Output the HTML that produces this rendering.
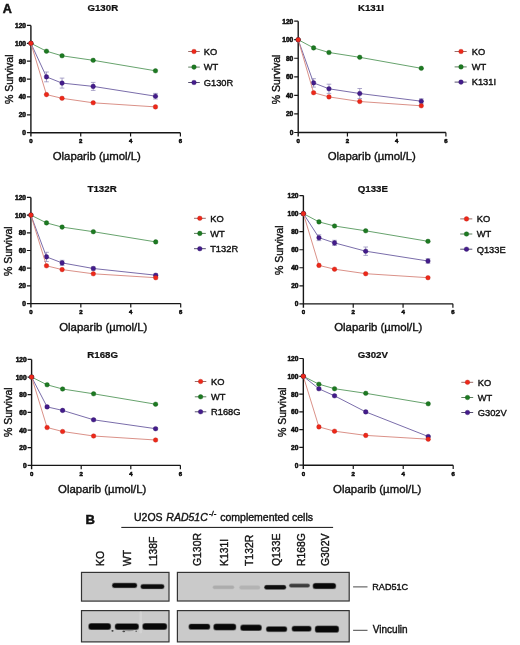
<!DOCTYPE html>
<html><head><meta charset="utf-8"><style>
html,body{margin:0;padding:0;background:#fff;width:520px;height:645px;overflow:hidden}
svg{display:block;will-change:transform}
text{font-family:"Liberation Sans", sans-serif;fill:#111;stroke:#111;stroke-width:0.38px}
text[font-weight=bold]{stroke-width:0.22px}
text.tk{stroke-width:0.55px}
</style></head><body>
<svg width="520" height="645" viewBox="0 0 520 645">
<text x="2.7" y="12.5" font-weight="bold" font-size="12.6" style="stroke-width:0.5px">A</text>
<text x="102.8" y="10.9" text-anchor="middle" font-weight="bold" font-size="9.7">G130R</text>
<path d="M30.9 25.4V136.6M30.9 132.7H180.4" stroke="#161616" stroke-width="1.4" fill="none"/>
<path d="M26.9 132.7H30.9M26.9 114.82H30.9M26.9 96.93H30.9M26.9 79.05H30.9M26.9 61.17H30.9M26.9 43.28H30.9M26.9 25.4H30.9M80.73 132.7V136.6M130.57 132.7V136.6M180.4 132.7V136.6" stroke="#161616" stroke-width="1.2" fill="none"/>
<text x="26" y="135.2" text-anchor="end" font-weight="bold" font-size="6.6" class="tk">0</text>
<text x="26" y="117.32" text-anchor="end" font-weight="bold" font-size="6.6" class="tk">20</text>
<text x="26" y="99.43" text-anchor="end" font-weight="bold" font-size="6.6" class="tk">40</text>
<text x="26" y="81.55" text-anchor="end" font-weight="bold" font-size="6.6" class="tk">60</text>
<text x="26" y="63.67" text-anchor="end" font-weight="bold" font-size="6.6" class="tk">80</text>
<text x="26" y="45.78" text-anchor="end" font-weight="bold" font-size="6.6" class="tk">100</text>
<text x="26" y="27.9" text-anchor="end" font-weight="bold" font-size="6.6" class="tk">120</text>
<text x="30.9" y="143.3" text-anchor="middle" font-weight="bold" font-size="6" class="tk">0</text>
<text x="80.73" y="143.3" text-anchor="middle" font-weight="bold" font-size="6" class="tk">2</text>
<text x="130.57" y="143.3" text-anchor="middle" font-weight="bold" font-size="6" class="tk">4</text>
<text x="180.4" y="143.3" text-anchor="middle" font-weight="bold" font-size="6" class="tk">6</text>
<text transform="translate(12.7 79.3) rotate(-90)" text-anchor="middle" font-size="10.5">% Survival</text>
<text x="52.7" y="159.9" font-size="11.4">Olaparib (µmol/L)</text>
<polyline points="30.9,43.28 46.47,51.2 62.05,55.8 93.19,60.3 155.48,70.8" fill="none" stroke="#56985c" stroke-width="0.9"/>
<circle cx="30.9" cy="43.28" r="2.3" fill="#1d7a22" stroke="#0c560e" stroke-width="0.35"/>
<circle cx="46.47" cy="51.2" r="2.3" fill="#1d7a22" stroke="#0c560e" stroke-width="0.35"/>
<circle cx="62.05" cy="55.8" r="2.3" fill="#1d7a22" stroke="#0c560e" stroke-width="0.35"/>
<circle cx="93.19" cy="60.3" r="2.3" fill="#1d7a22" stroke="#0c560e" stroke-width="0.35"/>
<circle cx="155.48" cy="70.8" r="2.3" fill="#1d7a22" stroke="#0c560e" stroke-width="0.35"/>
<polyline points="30.9,43.28 46.47,76.9 62.05,83.1 93.19,86.4 155.48,96.2" fill="none" stroke="#6b5ca0" stroke-width="0.9"/>
<path d="M46.47 72V81.8M44.17 72H48.77M44.17 81.8H48.77M62.05 78.1V88.1M59.75 78.1H64.35M59.75 88.1H64.35M93.19 82.4V90.4M90.89 82.4H95.49M90.89 90.4H95.49M155.48 93.4V99M153.18 93.4H157.78M153.18 99H157.78" stroke="#9088b8" stroke-width="0.75" fill="none"/>
<circle cx="30.9" cy="43.28" r="2.3" fill="#441c8c" stroke="#2a0b5c" stroke-width="0.35"/>
<circle cx="46.47" cy="76.9" r="2.3" fill="#441c8c" stroke="#2a0b5c" stroke-width="0.35"/>
<circle cx="62.05" cy="83.1" r="2.3" fill="#441c8c" stroke="#2a0b5c" stroke-width="0.35"/>
<circle cx="93.19" cy="86.4" r="2.3" fill="#441c8c" stroke="#2a0b5c" stroke-width="0.35"/>
<circle cx="155.48" cy="96.2" r="2.3" fill="#441c8c" stroke="#2a0b5c" stroke-width="0.35"/>
<polyline points="30.9,43.28 46.47,94.6 62.05,98.3 93.19,102.8 155.48,106.9" fill="none" stroke="#d6857a" stroke-width="0.9"/>
<circle cx="30.9" cy="43.28" r="2.3" fill="#ee2819" stroke="#b81a10" stroke-width="0.35"/>
<circle cx="46.47" cy="94.6" r="2.3" fill="#ee2819" stroke="#b81a10" stroke-width="0.35"/>
<circle cx="62.05" cy="98.3" r="2.3" fill="#ee2819" stroke="#b81a10" stroke-width="0.35"/>
<circle cx="93.19" cy="102.8" r="2.3" fill="#ee2819" stroke="#b81a10" stroke-width="0.35"/>
<circle cx="155.48" cy="106.9" r="2.3" fill="#ee2819" stroke="#b81a10" stroke-width="0.35"/>
<path d="M188.2 51.5H199.8" stroke="#9a6e6a" stroke-width="1"/>
<circle cx="194" cy="51.5" r="2.3" fill="#ee2819" stroke="#b81a10" stroke-width="0.35"/>
<text x="203.8" y="54.8" font-size="9.3">KO</text>
<path d="M188.2 67.1H199.8" stroke="#5e7e60" stroke-width="1"/>
<circle cx="194" cy="67.1" r="2.3" fill="#1d7a22" stroke="#0c560e" stroke-width="0.35"/>
<text x="203.8" y="70.4" font-size="9.3">WT</text>
<path d="M188.2 82.5H199.8" stroke="#56506e" stroke-width="1"/>
<circle cx="194" cy="82.5" r="2.3" fill="#441c8c" stroke="#2a0b5c" stroke-width="0.35"/>
<text x="203.8" y="85.8" font-size="9.3">G130R</text>
<text x="370.9" y="10.9" text-anchor="middle" font-weight="bold" font-size="9.7">K131I</text>
<path d="M298.2 21.15V136.4M298.2 132.5H445.9" stroke="#161616" stroke-width="1.4" fill="none"/>
<path d="M294.2 132.5H298.2M294.2 113.94H298.2M294.2 95.38H298.2M294.2 76.83H298.2M294.2 58.27H298.2M294.2 39.71H298.2M294.2 21.15H298.2M347.43 132.5V136.4M396.67 132.5V136.4M445.9 132.5V136.4" stroke="#161616" stroke-width="1.2" fill="none"/>
<text x="293.3" y="135" text-anchor="end" font-weight="bold" font-size="6.6" class="tk">0</text>
<text x="293.3" y="116.44" text-anchor="end" font-weight="bold" font-size="6.6" class="tk">20</text>
<text x="293.3" y="97.88" text-anchor="end" font-weight="bold" font-size="6.6" class="tk">40</text>
<text x="293.3" y="79.33" text-anchor="end" font-weight="bold" font-size="6.6" class="tk">60</text>
<text x="293.3" y="60.77" text-anchor="end" font-weight="bold" font-size="6.6" class="tk">80</text>
<text x="293.3" y="42.21" text-anchor="end" font-weight="bold" font-size="6.6" class="tk">100</text>
<text x="293.3" y="23.65" text-anchor="end" font-weight="bold" font-size="6.6" class="tk">120</text>
<text x="298.2" y="143.1" text-anchor="middle" font-weight="bold" font-size="6" class="tk">0</text>
<text x="347.43" y="143.1" text-anchor="middle" font-weight="bold" font-size="6" class="tk">2</text>
<text x="396.67" y="143.1" text-anchor="middle" font-weight="bold" font-size="6" class="tk">4</text>
<text x="445.9" y="143.1" text-anchor="middle" font-weight="bold" font-size="6" class="tk">6</text>
<text transform="translate(279.6 79.4) rotate(-90)" text-anchor="middle" font-size="10.5">% Survival</text>
<text x="327.7" y="159.9" font-size="11.4">Olaparib (µmol/L)</text>
<polyline points="298.2,39.71 313.59,47.9 328.97,52.5 359.74,57.3 421.28,68.3" fill="none" stroke="#56985c" stroke-width="0.9"/>
<circle cx="298.2" cy="39.71" r="2.3" fill="#1d7a22" stroke="#0c560e" stroke-width="0.35"/>
<circle cx="313.59" cy="47.9" r="2.3" fill="#1d7a22" stroke="#0c560e" stroke-width="0.35"/>
<circle cx="328.97" cy="52.5" r="2.3" fill="#1d7a22" stroke="#0c560e" stroke-width="0.35"/>
<circle cx="359.74" cy="57.3" r="2.3" fill="#1d7a22" stroke="#0c560e" stroke-width="0.35"/>
<circle cx="421.28" cy="68.3" r="2.3" fill="#1d7a22" stroke="#0c560e" stroke-width="0.35"/>
<polyline points="298.2,39.71 313.59,82.9 328.97,88.8 359.74,93.5 421.28,101.2" fill="none" stroke="#6b5ca0" stroke-width="0.9"/>
<path d="M313.59 78.7V87.1M311.29 78.7H315.89M311.29 87.1H315.89M328.97 84.2V93.4M326.67 84.2H331.27M326.67 93.4H331.27M359.74 88.5V98.5M357.44 88.5H362.04M357.44 98.5H362.04M421.28 98.8V103.6M418.98 98.8H423.58M418.98 103.6H423.58" stroke="#9088b8" stroke-width="0.75" fill="none"/>
<circle cx="298.2" cy="39.71" r="2.3" fill="#441c8c" stroke="#2a0b5c" stroke-width="0.35"/>
<circle cx="313.59" cy="82.9" r="2.3" fill="#441c8c" stroke="#2a0b5c" stroke-width="0.35"/>
<circle cx="328.97" cy="88.8" r="2.3" fill="#441c8c" stroke="#2a0b5c" stroke-width="0.35"/>
<circle cx="359.74" cy="93.5" r="2.3" fill="#441c8c" stroke="#2a0b5c" stroke-width="0.35"/>
<circle cx="421.28" cy="101.2" r="2.3" fill="#441c8c" stroke="#2a0b5c" stroke-width="0.35"/>
<polyline points="298.2,39.71 313.59,92.7 328.97,96.9 359.74,101.5 421.28,105.8" fill="none" stroke="#d6857a" stroke-width="0.9"/>
<circle cx="298.2" cy="39.71" r="2.3" fill="#ee2819" stroke="#b81a10" stroke-width="0.35"/>
<circle cx="313.59" cy="92.7" r="2.3" fill="#ee2819" stroke="#b81a10" stroke-width="0.35"/>
<circle cx="328.97" cy="96.9" r="2.3" fill="#ee2819" stroke="#b81a10" stroke-width="0.35"/>
<circle cx="359.74" cy="101.5" r="2.3" fill="#ee2819" stroke="#b81a10" stroke-width="0.35"/>
<circle cx="421.28" cy="105.8" r="2.3" fill="#ee2819" stroke="#b81a10" stroke-width="0.35"/>
<path d="M454.6 51.5H466.7" stroke="#9a6e6a" stroke-width="1"/>
<circle cx="461" cy="51.5" r="2.3" fill="#ee2819" stroke="#b81a10" stroke-width="0.35"/>
<text x="471.7" y="54.8" font-size="9.3">KO</text>
<path d="M454.6 66.9H466.7" stroke="#5e7e60" stroke-width="1"/>
<circle cx="461" cy="66.9" r="2.3" fill="#1d7a22" stroke="#0c560e" stroke-width="0.35"/>
<text x="471.7" y="70.2" font-size="9.3">WT</text>
<path d="M454.6 82.1H466.7" stroke="#56506e" stroke-width="1"/>
<circle cx="461" cy="82.1" r="2.3" fill="#441c8c" stroke="#2a0b5c" stroke-width="0.35"/>
<text x="471.7" y="85.4" font-size="9.3">K131I</text>
<text x="102.1" y="192" text-anchor="middle" font-weight="bold" font-size="9.7">T132R</text>
<path d="M30.9 197.4V307.5M30.9 303.6H180.7" stroke="#161616" stroke-width="1.4" fill="none"/>
<path d="M26.9 303.6H30.9M26.9 285.9H30.9M26.9 268.2H30.9M26.9 250.5H30.9M26.9 232.8H30.9M26.9 215.1H30.9M26.9 197.4H30.9M80.83 303.6V307.5M130.77 303.6V307.5M180.7 303.6V307.5" stroke="#161616" stroke-width="1.2" fill="none"/>
<text x="26" y="306.1" text-anchor="end" font-weight="bold" font-size="6.6" class="tk">0</text>
<text x="26" y="288.4" text-anchor="end" font-weight="bold" font-size="6.6" class="tk">20</text>
<text x="26" y="270.7" text-anchor="end" font-weight="bold" font-size="6.6" class="tk">40</text>
<text x="26" y="253" text-anchor="end" font-weight="bold" font-size="6.6" class="tk">60</text>
<text x="26" y="235.3" text-anchor="end" font-weight="bold" font-size="6.6" class="tk">80</text>
<text x="26" y="217.6" text-anchor="end" font-weight="bold" font-size="6.6" class="tk">100</text>
<text x="26" y="199.9" text-anchor="end" font-weight="bold" font-size="6.6" class="tk">120</text>
<text x="30.9" y="314.2" text-anchor="middle" font-weight="bold" font-size="6" class="tk">0</text>
<text x="80.83" y="314.2" text-anchor="middle" font-weight="bold" font-size="6" class="tk">2</text>
<text x="130.77" y="314.2" text-anchor="middle" font-weight="bold" font-size="6" class="tk">4</text>
<text x="180.7" y="314.2" text-anchor="middle" font-weight="bold" font-size="6" class="tk">6</text>
<text transform="translate(12.1 251.2) rotate(-90)" text-anchor="middle" font-size="10.5">% Survival</text>
<text x="59.2" y="330.8" font-size="11.4">Olaparib (µmol/L)</text>
<polyline points="30.9,215.1 46.5,222.9 62.11,227.1 93.32,231.7 155.73,241.9" fill="none" stroke="#56985c" stroke-width="0.9"/>
<circle cx="30.9" cy="215.1" r="2.3" fill="#1d7a22" stroke="#0c560e" stroke-width="0.35"/>
<circle cx="46.5" cy="222.9" r="2.3" fill="#1d7a22" stroke="#0c560e" stroke-width="0.35"/>
<circle cx="62.11" cy="227.1" r="2.3" fill="#1d7a22" stroke="#0c560e" stroke-width="0.35"/>
<circle cx="93.32" cy="231.7" r="2.3" fill="#1d7a22" stroke="#0c560e" stroke-width="0.35"/>
<circle cx="155.73" cy="241.9" r="2.3" fill="#1d7a22" stroke="#0c560e" stroke-width="0.35"/>
<polyline points="30.9,215.1 46.5,256.9 62.11,262.9 93.32,268.5 155.73,275.2" fill="none" stroke="#6b5ca0" stroke-width="0.9"/>
<path d="M46.5 252.3V261.5M44.2 252.3H48.8M44.2 261.5H48.8M62.11 260.3V265.5M59.81 260.3H64.41M59.81 265.5H64.41M93.32 266.9V270.1M91.02 266.9H95.62M91.02 270.1H95.62M155.73 274V276.4M153.43 274H158.03M153.43 276.4H158.03" stroke="#9088b8" stroke-width="0.75" fill="none"/>
<circle cx="30.9" cy="215.1" r="2.3" fill="#441c8c" stroke="#2a0b5c" stroke-width="0.35"/>
<circle cx="46.5" cy="256.9" r="2.3" fill="#441c8c" stroke="#2a0b5c" stroke-width="0.35"/>
<circle cx="62.11" cy="262.9" r="2.3" fill="#441c8c" stroke="#2a0b5c" stroke-width="0.35"/>
<circle cx="93.32" cy="268.5" r="2.3" fill="#441c8c" stroke="#2a0b5c" stroke-width="0.35"/>
<circle cx="155.73" cy="275.2" r="2.3" fill="#441c8c" stroke="#2a0b5c" stroke-width="0.35"/>
<polyline points="30.9,215.1 46.5,265.8 62.11,269.6 93.32,273.8 155.73,277.7" fill="none" stroke="#d6857a" stroke-width="0.9"/>
<circle cx="30.9" cy="215.1" r="2.3" fill="#ee2819" stroke="#b81a10" stroke-width="0.35"/>
<circle cx="46.5" cy="265.8" r="2.3" fill="#ee2819" stroke="#b81a10" stroke-width="0.35"/>
<circle cx="62.11" cy="269.6" r="2.3" fill="#ee2819" stroke="#b81a10" stroke-width="0.35"/>
<circle cx="93.32" cy="273.8" r="2.3" fill="#ee2819" stroke="#b81a10" stroke-width="0.35"/>
<circle cx="155.73" cy="277.7" r="2.3" fill="#ee2819" stroke="#b81a10" stroke-width="0.35"/>
<path d="M194 218.3H205.8" stroke="#9a6e6a" stroke-width="1"/>
<circle cx="199.8" cy="218.3" r="2.3" fill="#ee2819" stroke="#b81a10" stroke-width="0.35"/>
<text x="210.2" y="221.6" font-size="9.3">KO</text>
<path d="M194 233.4H205.8" stroke="#5e7e60" stroke-width="1"/>
<circle cx="199.8" cy="233.4" r="2.3" fill="#1d7a22" stroke="#0c560e" stroke-width="0.35"/>
<text x="210.2" y="236.7" font-size="9.3">WT</text>
<path d="M194 248.7H205.8" stroke="#56506e" stroke-width="1"/>
<circle cx="199.8" cy="248.7" r="2.3" fill="#441c8c" stroke="#2a0b5c" stroke-width="0.35"/>
<text x="210.2" y="252" font-size="9.3">T132R</text>
<text x="372.9" y="192" text-anchor="middle" font-weight="bold" font-size="9.7">Q133E</text>
<path d="M303.4 195.6V307.75M303.4 303.85H452.9" stroke="#161616" stroke-width="1.4" fill="none"/>
<path d="M299.4 303.85H303.4M299.4 285.81H303.4M299.4 267.77H303.4M299.4 249.73H303.4M299.4 231.68H303.4M299.4 213.64H303.4M299.4 195.6H303.4M353.23 303.85V307.75M403.07 303.85V307.75M452.9 303.85V307.75" stroke="#161616" stroke-width="1.2" fill="none"/>
<text x="298.5" y="306.35" text-anchor="end" font-weight="bold" font-size="6.6" class="tk">0</text>
<text x="298.5" y="288.31" text-anchor="end" font-weight="bold" font-size="6.6" class="tk">20</text>
<text x="298.5" y="270.27" text-anchor="end" font-weight="bold" font-size="6.6" class="tk">40</text>
<text x="298.5" y="252.23" text-anchor="end" font-weight="bold" font-size="6.6" class="tk">60</text>
<text x="298.5" y="234.18" text-anchor="end" font-weight="bold" font-size="6.6" class="tk">80</text>
<text x="298.5" y="216.14" text-anchor="end" font-weight="bold" font-size="6.6" class="tk">100</text>
<text x="298.5" y="198.1" text-anchor="end" font-weight="bold" font-size="6.6" class="tk">120</text>
<text x="303.4" y="314.45" text-anchor="middle" font-weight="bold" font-size="6" class="tk">0</text>
<text x="353.23" y="314.45" text-anchor="middle" font-weight="bold" font-size="6" class="tk">2</text>
<text x="403.07" y="314.45" text-anchor="middle" font-weight="bold" font-size="6" class="tk">4</text>
<text x="452.9" y="314.45" text-anchor="middle" font-weight="bold" font-size="6" class="tk">6</text>
<text transform="translate(282.7 250.3) rotate(-90)" text-anchor="middle" font-size="10.5">% Survival</text>
<text x="334.2" y="331.2" font-size="11.4">Olaparib (µmol/L)</text>
<polyline points="303.4,213.64 318.97,221.9 334.55,226 365.69,230.8 427.98,241.3" fill="none" stroke="#56985c" stroke-width="0.9"/>
<circle cx="303.4" cy="213.64" r="2.3" fill="#1d7a22" stroke="#0c560e" stroke-width="0.35"/>
<circle cx="318.97" cy="221.9" r="2.3" fill="#1d7a22" stroke="#0c560e" stroke-width="0.35"/>
<circle cx="334.55" cy="226" r="2.3" fill="#1d7a22" stroke="#0c560e" stroke-width="0.35"/>
<circle cx="365.69" cy="230.8" r="2.3" fill="#1d7a22" stroke="#0c560e" stroke-width="0.35"/>
<circle cx="427.98" cy="241.3" r="2.3" fill="#1d7a22" stroke="#0c560e" stroke-width="0.35"/>
<polyline points="303.4,213.64 318.97,237.7 334.55,242.9 365.69,251.2 427.98,261" fill="none" stroke="#6b5ca0" stroke-width="0.9"/>
<path d="M318.97 234.8V240.6M316.67 234.8H321.27M316.67 240.6H321.27M334.55 240.3V245.5M332.25 240.3H336.85M332.25 245.5H336.85M365.69 247V255.4M363.39 247H367.99M363.39 255.4H367.99M427.98 258.7V263.3M425.68 258.7H430.28M425.68 263.3H430.28" stroke="#9088b8" stroke-width="0.75" fill="none"/>
<circle cx="303.4" cy="213.64" r="2.3" fill="#441c8c" stroke="#2a0b5c" stroke-width="0.35"/>
<circle cx="318.97" cy="237.7" r="2.3" fill="#441c8c" stroke="#2a0b5c" stroke-width="0.35"/>
<circle cx="334.55" cy="242.9" r="2.3" fill="#441c8c" stroke="#2a0b5c" stroke-width="0.35"/>
<circle cx="365.69" cy="251.2" r="2.3" fill="#441c8c" stroke="#2a0b5c" stroke-width="0.35"/>
<circle cx="427.98" cy="261" r="2.3" fill="#441c8c" stroke="#2a0b5c" stroke-width="0.35"/>
<polyline points="303.4,213.64 318.97,265.4 334.55,269.2 365.69,273.7 427.98,277.7" fill="none" stroke="#d6857a" stroke-width="0.9"/>
<circle cx="303.4" cy="213.64" r="2.3" fill="#ee2819" stroke="#b81a10" stroke-width="0.35"/>
<circle cx="318.97" cy="265.4" r="2.3" fill="#ee2819" stroke="#b81a10" stroke-width="0.35"/>
<circle cx="334.55" cy="269.2" r="2.3" fill="#ee2819" stroke="#b81a10" stroke-width="0.35"/>
<circle cx="365.69" cy="273.7" r="2.3" fill="#ee2819" stroke="#b81a10" stroke-width="0.35"/>
<circle cx="427.98" cy="277.7" r="2.3" fill="#ee2819" stroke="#b81a10" stroke-width="0.35"/>
<path d="M460.2 218.9H472.3" stroke="#9a6e6a" stroke-width="1"/>
<circle cx="466.5" cy="218.9" r="2.3" fill="#ee2819" stroke="#b81a10" stroke-width="0.35"/>
<text x="476.7" y="222.2" font-size="9.3">KO</text>
<path d="M460.2 234H472.3" stroke="#5e7e60" stroke-width="1"/>
<circle cx="466.5" cy="234" r="2.3" fill="#1d7a22" stroke="#0c560e" stroke-width="0.35"/>
<text x="476.7" y="237.3" font-size="9.3">WT</text>
<path d="M460.2 249.2H472.3" stroke="#56506e" stroke-width="1"/>
<circle cx="466.5" cy="249.2" r="2.3" fill="#441c8c" stroke="#2a0b5c" stroke-width="0.35"/>
<text x="476.7" y="252.5" font-size="9.3">Q133E</text>
<text x="102.7" y="358.2" text-anchor="middle" font-weight="bold" font-size="9.7">R168G</text>
<path d="M31.6 359.4V469.25M31.6 465.35H180.4" stroke="#161616" stroke-width="1.4" fill="none"/>
<path d="M27.6 465.35H31.6M27.6 447.69H31.6M27.6 430.03H31.6M27.6 412.38H31.6M27.6 394.72H31.6M27.6 377.06H31.6M27.6 359.4H31.6M81.2 465.35V469.25M130.8 465.35V469.25M180.4 465.35V469.25" stroke="#161616" stroke-width="1.2" fill="none"/>
<text x="26.7" y="467.85" text-anchor="end" font-weight="bold" font-size="6.6" class="tk">0</text>
<text x="26.7" y="450.19" text-anchor="end" font-weight="bold" font-size="6.6" class="tk">20</text>
<text x="26.7" y="432.53" text-anchor="end" font-weight="bold" font-size="6.6" class="tk">40</text>
<text x="26.7" y="414.88" text-anchor="end" font-weight="bold" font-size="6.6" class="tk">60</text>
<text x="26.7" y="397.22" text-anchor="end" font-weight="bold" font-size="6.6" class="tk">80</text>
<text x="26.7" y="379.56" text-anchor="end" font-weight="bold" font-size="6.6" class="tk">100</text>
<text x="26.7" y="361.9" text-anchor="end" font-weight="bold" font-size="6.6" class="tk">120</text>
<text x="31.6" y="475.95" text-anchor="middle" font-weight="bold" font-size="6" class="tk">0</text>
<text x="81.2" y="475.95" text-anchor="middle" font-weight="bold" font-size="6" class="tk">2</text>
<text x="130.8" y="475.95" text-anchor="middle" font-weight="bold" font-size="6" class="tk">4</text>
<text x="180.4" y="475.95" text-anchor="middle" font-weight="bold" font-size="6" class="tk">6</text>
<text transform="translate(12.1 412.2) rotate(-90)" text-anchor="middle" font-size="10.5">% Survival</text>
<text x="58.1" y="492.9" font-size="11.4">Olaparib (µmol/L)</text>
<polyline points="31.6,377.06 47.1,384.8 62.6,389 93.6,393.8 155.6,404.2" fill="none" stroke="#56985c" stroke-width="0.9"/>
<circle cx="31.6" cy="377.06" r="2.3" fill="#1d7a22" stroke="#0c560e" stroke-width="0.35"/>
<circle cx="47.1" cy="384.8" r="2.3" fill="#1d7a22" stroke="#0c560e" stroke-width="0.35"/>
<circle cx="62.6" cy="389" r="2.3" fill="#1d7a22" stroke="#0c560e" stroke-width="0.35"/>
<circle cx="93.6" cy="393.8" r="2.3" fill="#1d7a22" stroke="#0c560e" stroke-width="0.35"/>
<circle cx="155.6" cy="404.2" r="2.3" fill="#1d7a22" stroke="#0c560e" stroke-width="0.35"/>
<polyline points="31.6,377.06 47.1,406.9 62.6,410.4 93.6,419.8 155.6,428.7" fill="none" stroke="#6b5ca0" stroke-width="0.9"/>
<path d="M47.1 406V407.8M44.8 406H49.4M44.8 407.8H49.4M62.6 409.5V411.3M60.3 409.5H64.9M60.3 411.3H64.9M93.6 418.9V420.7M91.3 418.9H95.9M91.3 420.7H95.9M155.6 427.8V429.6M153.3 427.8H157.9M153.3 429.6H157.9" stroke="#9088b8" stroke-width="0.75" fill="none"/>
<circle cx="31.6" cy="377.06" r="2.3" fill="#441c8c" stroke="#2a0b5c" stroke-width="0.35"/>
<circle cx="47.1" cy="406.9" r="2.3" fill="#441c8c" stroke="#2a0b5c" stroke-width="0.35"/>
<circle cx="62.6" cy="410.4" r="2.3" fill="#441c8c" stroke="#2a0b5c" stroke-width="0.35"/>
<circle cx="93.6" cy="419.8" r="2.3" fill="#441c8c" stroke="#2a0b5c" stroke-width="0.35"/>
<circle cx="155.6" cy="428.7" r="2.3" fill="#441c8c" stroke="#2a0b5c" stroke-width="0.35"/>
<polyline points="31.6,377.06 47.1,427.5 62.6,431.5 93.6,436 155.6,440" fill="none" stroke="#d6857a" stroke-width="0.9"/>
<circle cx="31.6" cy="377.06" r="2.3" fill="#ee2819" stroke="#b81a10" stroke-width="0.35"/>
<circle cx="47.1" cy="427.5" r="2.3" fill="#ee2819" stroke="#b81a10" stroke-width="0.35"/>
<circle cx="62.6" cy="431.5" r="2.3" fill="#ee2819" stroke="#b81a10" stroke-width="0.35"/>
<circle cx="93.6" cy="436" r="2.3" fill="#ee2819" stroke="#b81a10" stroke-width="0.35"/>
<circle cx="155.6" cy="440" r="2.3" fill="#ee2819" stroke="#b81a10" stroke-width="0.35"/>
<path d="M194.8 381.5H206.3" stroke="#9a6e6a" stroke-width="1"/>
<circle cx="200.6" cy="381.5" r="2.3" fill="#ee2819" stroke="#b81a10" stroke-width="0.35"/>
<text x="211" y="384.8" font-size="9.3">KO</text>
<path d="M194.8 396.8H206.3" stroke="#5e7e60" stroke-width="1"/>
<circle cx="200.6" cy="396.8" r="2.3" fill="#1d7a22" stroke="#0c560e" stroke-width="0.35"/>
<text x="211" y="400.1" font-size="9.3">WT</text>
<path d="M194.8 411.8H206.3" stroke="#56506e" stroke-width="1"/>
<circle cx="200.6" cy="411.8" r="2.3" fill="#441c8c" stroke="#2a0b5c" stroke-width="0.35"/>
<text x="211" y="415.1" font-size="9.3">R168G</text>
<text x="372.9" y="357.9" text-anchor="middle" font-weight="bold" font-size="9.7">G302V</text>
<path d="M303.3 358.5V469.1M303.3 465.2H453.2" stroke="#161616" stroke-width="1.4" fill="none"/>
<path d="M299.3 465.2H303.3M299.3 447.42H303.3M299.3 429.63H303.3M299.3 411.85H303.3M299.3 394.07H303.3M299.3 376.28H303.3M299.3 358.5H303.3M353.27 465.2V469.1M403.23 465.2V469.1M453.2 465.2V469.1" stroke="#161616" stroke-width="1.2" fill="none"/>
<text x="298.4" y="467.7" text-anchor="end" font-weight="bold" font-size="6.6" class="tk">0</text>
<text x="298.4" y="449.92" text-anchor="end" font-weight="bold" font-size="6.6" class="tk">20</text>
<text x="298.4" y="432.13" text-anchor="end" font-weight="bold" font-size="6.6" class="tk">40</text>
<text x="298.4" y="414.35" text-anchor="end" font-weight="bold" font-size="6.6" class="tk">60</text>
<text x="298.4" y="396.57" text-anchor="end" font-weight="bold" font-size="6.6" class="tk">80</text>
<text x="298.4" y="378.78" text-anchor="end" font-weight="bold" font-size="6.6" class="tk">100</text>
<text x="298.4" y="361" text-anchor="end" font-weight="bold" font-size="6.6" class="tk">120</text>
<text x="303.3" y="475.8" text-anchor="middle" font-weight="bold" font-size="6" class="tk">0</text>
<text x="353.27" y="475.8" text-anchor="middle" font-weight="bold" font-size="6" class="tk">2</text>
<text x="403.23" y="475.8" text-anchor="middle" font-weight="bold" font-size="6" class="tk">4</text>
<text x="453.2" y="475.8" text-anchor="middle" font-weight="bold" font-size="6" class="tk">6</text>
<text transform="translate(285.8 412.2) rotate(-90)" text-anchor="middle" font-size="10.5">% Survival</text>
<text x="333.1" y="492.9" font-size="11.4">Olaparib (µmol/L)</text>
<polyline points="303.3,376.28 318.91,384.2 334.53,388.7 365.76,393.3 428.22,403.8" fill="none" stroke="#56985c" stroke-width="0.9"/>
<circle cx="303.3" cy="376.28" r="2.3" fill="#1d7a22" stroke="#0c560e" stroke-width="0.35"/>
<circle cx="318.91" cy="384.2" r="2.3" fill="#1d7a22" stroke="#0c560e" stroke-width="0.35"/>
<circle cx="334.53" cy="388.7" r="2.3" fill="#1d7a22" stroke="#0c560e" stroke-width="0.35"/>
<circle cx="365.76" cy="393.3" r="2.3" fill="#1d7a22" stroke="#0c560e" stroke-width="0.35"/>
<circle cx="428.22" cy="403.8" r="2.3" fill="#1d7a22" stroke="#0c560e" stroke-width="0.35"/>
<polyline points="303.3,376.28 318.91,388.8 334.53,395.8 365.76,411.9 428.22,436.5" fill="none" stroke="#6b5ca0" stroke-width="0.9"/>
<path d="M318.91 387.9V389.7M316.61 387.9H321.21M316.61 389.7H321.21M334.53 394.9V396.7M332.23 394.9H336.83M332.23 396.7H336.83M365.76 411V412.8M363.46 411H368.06M363.46 412.8H368.06M428.22 435.6V437.4M425.92 435.6H430.52M425.92 437.4H430.52" stroke="#9088b8" stroke-width="0.75" fill="none"/>
<circle cx="303.3" cy="376.28" r="2.3" fill="#441c8c" stroke="#2a0b5c" stroke-width="0.35"/>
<circle cx="318.91" cy="388.8" r="2.3" fill="#441c8c" stroke="#2a0b5c" stroke-width="0.35"/>
<circle cx="334.53" cy="395.8" r="2.3" fill="#441c8c" stroke="#2a0b5c" stroke-width="0.35"/>
<circle cx="365.76" cy="411.9" r="2.3" fill="#441c8c" stroke="#2a0b5c" stroke-width="0.35"/>
<circle cx="428.22" cy="436.5" r="2.3" fill="#441c8c" stroke="#2a0b5c" stroke-width="0.35"/>
<polyline points="303.3,376.28 318.91,426.9 334.53,431.2 365.76,435.4 428.22,439.2" fill="none" stroke="#d6857a" stroke-width="0.9"/>
<circle cx="303.3" cy="376.28" r="2.3" fill="#ee2819" stroke="#b81a10" stroke-width="0.35"/>
<circle cx="318.91" cy="426.9" r="2.3" fill="#ee2819" stroke="#b81a10" stroke-width="0.35"/>
<circle cx="334.53" cy="431.2" r="2.3" fill="#ee2819" stroke="#b81a10" stroke-width="0.35"/>
<circle cx="365.76" cy="435.4" r="2.3" fill="#ee2819" stroke="#b81a10" stroke-width="0.35"/>
<circle cx="428.22" cy="439.2" r="2.3" fill="#ee2819" stroke="#b81a10" stroke-width="0.35"/>
<path d="M461.3 382.3H473.2" stroke="#9a6e6a" stroke-width="1"/>
<circle cx="467.5" cy="382.3" r="2.3" fill="#ee2819" stroke="#b81a10" stroke-width="0.35"/>
<text x="477.8" y="385.6" font-size="9.3">KO</text>
<path d="M461.3 397.5H473.2" stroke="#5e7e60" stroke-width="1"/>
<circle cx="467.5" cy="397.5" r="2.3" fill="#1d7a22" stroke="#0c560e" stroke-width="0.35"/>
<text x="477.8" y="400.8" font-size="9.3">WT</text>
<path d="M461.3 412.5H473.2" stroke="#56506e" stroke-width="1"/>
<circle cx="467.5" cy="412.5" r="2.3" fill="#441c8c" stroke="#2a0b5c" stroke-width="0.35"/>
<text x="477.8" y="415.8" font-size="9.3">G302V</text>
<text x="85.6" y="523.5" font-weight="bold" font-size="13" style="stroke-width:0.5px">B</text>
<text x="134" y="520.8" font-size="10.5">U2OS <tspan font-style="italic" dx="0.8">RAD51C</tspan><tspan font-size="8" dx="1.2" dy="-5">-/-</tspan><tspan dx="0.8" dy="5"> complemented cells</tspan></text>
<path d="M121.3 527.4H333.1" stroke="#111" stroke-width="1"/>
<text transform="translate(104.2 566) rotate(-90)" font-size="10.4">KO</text>
<text transform="translate(131.4 566) rotate(-90)" font-size="10.4">WT</text>
<text transform="translate(157 566) rotate(-90)" font-size="10.4">L138F</text>
<text transform="translate(201 566) rotate(-90)" font-size="10.4">G130R</text>
<text transform="translate(227.8 566) rotate(-90)" font-size="10.4">K131I</text>
<text transform="translate(253.2 566) rotate(-90)" font-size="10.4">T132R</text>
<text transform="translate(279.5 566) rotate(-90)" font-size="10.4">Q133E</text>
<text transform="translate(304.7 566) rotate(-90)" font-size="10.4">R168G</text>
<text transform="translate(329.1 566) rotate(-90)" font-size="10.4">G302V</text>
<rect x="81.5" y="572.4" width="87.5" height="28.7" fill="#cacaca" stroke="#333" stroke-width="1.2"/>
<rect x="81.5" y="610.6" width="87.5" height="31.3" fill="#cacaca" stroke="#333" stroke-width="1.2"/>
<rect x="177.4" y="572.4" width="171.8" height="28.6" fill="#cacaca" stroke="#333" stroke-width="1.2"/>
<rect x="177.4" y="610.6" width="171.8" height="31.3" fill="#cacaca" stroke="#333" stroke-width="1.2"/>
<rect x="111.75" y="582.55" width="25.7" height="5.7" rx="2.6" fill="#0a0a0a" fill-opacity="0.3"/><rect x="112.15" y="582.95" width="24.9" height="4.9" rx="2.45" fill="#0a0a0a" fill-opacity="0.55"/><rect x="112.6" y="583.4" width="24" height="4" rx="2" fill="#0a0a0a" fill-opacity="1.0"/>
<rect x="140.25" y="583.85" width="24.4" height="5.5" rx="2.6" fill="#0c0c0c" fill-opacity="0.3"/><rect x="140.65" y="584.25" width="23.6" height="4.7" rx="2.35" fill="#0c0c0c" fill-opacity="0.55"/><rect x="141.1" y="584.7" width="22.7" height="3.8" rx="1.9" fill="#0c0c0c" fill-opacity="1.0"/>
<rect x="212.45" y="585.15" width="22" height="4.3" rx="2.15" fill="#acacac" fill-opacity="0.3"/><rect x="212.85" y="585.55" width="21.2" height="3.5" rx="1.75" fill="#acacac" fill-opacity="0.55"/><rect x="213.3" y="586" width="20.3" height="2.6" rx="1.3" fill="#acacac" fill-opacity="1.0"/>
<rect x="238.95" y="585.15" width="21.5" height="4.7" rx="2.35" fill="#b3b3b3" fill-opacity="0.3"/><rect x="239.35" y="585.55" width="20.7" height="3.9" rx="1.95" fill="#b3b3b3" fill-opacity="0.55"/><rect x="239.8" y="586" width="19.8" height="3" rx="1.5" fill="#b3b3b3" fill-opacity="1.0"/>
<rect x="263.95" y="584.7" width="22.5" height="5.2" rx="2.6" fill="#0e0e0e" fill-opacity="0.3"/><rect x="264.35" y="585.1" width="21.7" height="4.4" rx="2.2" fill="#0e0e0e" fill-opacity="0.55"/><rect x="264.8" y="585.55" width="20.8" height="3.5" rx="1.75" fill="#0e0e0e" fill-opacity="1.0"/>
<rect x="288.85" y="583.35" width="21.3" height="4.5" rx="2.25" fill="#3c3c3c" fill-opacity="0.3"/><rect x="289.25" y="583.75" width="20.5" height="3.7" rx="1.85" fill="#3c3c3c" fill-opacity="0.55"/><rect x="289.7" y="584.2" width="19.6" height="2.8" rx="1.4" fill="#3c3c3c" fill-opacity="1.0"/>
<rect x="312.45" y="582.75" width="23.9" height="6.5" rx="2.6" fill="#080808" fill-opacity="0.3"/><rect x="312.85" y="583.15" width="23.1" height="5.7" rx="2.6" fill="#080808" fill-opacity="0.55"/><rect x="313.3" y="583.6" width="22.2" height="4.8" rx="2.4" fill="#080808" fill-opacity="1.0"/>
<rect x="88.15" y="622.95" width="23.1" height="7.1" rx="2.6" fill="#080808" fill-opacity="0.3"/><rect x="88.55" y="623.35" width="22.3" height="6.3" rx="2.6" fill="#080808" fill-opacity="0.55"/><rect x="89" y="623.8" width="21.4" height="5.4" rx="2.6" fill="#080808" fill-opacity="1.0"/>
<rect x="114.55" y="623.15" width="24.6" height="6.9" rx="2.6" fill="#080808" fill-opacity="0.3"/><rect x="114.95" y="623.55" width="23.8" height="6.1" rx="2.6" fill="#080808" fill-opacity="0.55"/><rect x="115.4" y="624" width="22.9" height="5.2" rx="2.6" fill="#080808" fill-opacity="1.0"/>
<rect x="142.15" y="622.95" width="25.2" height="7.1" rx="2.6" fill="#080808" fill-opacity="0.3"/><rect x="142.55" y="623.35" width="24.4" height="6.3" rx="2.6" fill="#080808" fill-opacity="0.55"/><rect x="143" y="623.8" width="23.5" height="5.4" rx="2.6" fill="#080808" fill-opacity="1.0"/>
<rect x="188.35" y="623.5" width="22.1" height="6.4" rx="2.6" fill="#080808" fill-opacity="0.3"/><rect x="188.75" y="623.9" width="21.3" height="5.6" rx="2.6" fill="#080808" fill-opacity="0.55"/><rect x="189.2" y="624.35" width="20.4" height="4.7" rx="2.35" fill="#080808" fill-opacity="1.0"/>
<rect x="213.15" y="623.45" width="23.3" height="7.1" rx="2.6" fill="#080808" fill-opacity="0.3"/><rect x="213.55" y="623.85" width="22.5" height="6.3" rx="2.6" fill="#080808" fill-opacity="0.55"/><rect x="214" y="624.3" width="21.6" height="5.4" rx="2.6" fill="#080808" fill-opacity="1.0"/>
<rect x="240.05" y="624.35" width="22" height="6.7" rx="2.6" fill="#080808" fill-opacity="0.3"/><rect x="240.45" y="624.75" width="21.2" height="5.9" rx="2.6" fill="#080808" fill-opacity="0.55"/><rect x="240.9" y="625.2" width="20.3" height="5" rx="2.5" fill="#080808" fill-opacity="1.0"/>
<rect x="265.75" y="626.05" width="21.7" height="6.1" rx="2.6" fill="#080808" fill-opacity="0.3"/><rect x="266.15" y="626.45" width="20.9" height="5.3" rx="2.6" fill="#080808" fill-opacity="0.55"/><rect x="266.6" y="626.9" width="20" height="4.4" rx="2.2" fill="#080808" fill-opacity="1.0"/>
<rect x="291.45" y="625.6" width="20.3" height="6.2" rx="2.6" fill="#080808" fill-opacity="0.3"/><rect x="291.85" y="626" width="19.5" height="5.4" rx="2.6" fill="#080808" fill-opacity="0.55"/><rect x="292.3" y="626.45" width="18.6" height="4.5" rx="2.25" fill="#080808" fill-opacity="1.0"/>
<rect x="314.65" y="625.45" width="24.6" height="7.5" rx="2.6" fill="#080808" fill-opacity="0.3"/><rect x="315.05" y="625.85" width="23.8" height="6.7" rx="2.6" fill="#080808" fill-opacity="0.55"/><rect x="315.5" y="626.3" width="22.9" height="5.8" rx="2.6" fill="#080808" fill-opacity="1.0"/>
<rect x="139.4" y="611.4" width="2.6" height="22" rx="1.2" fill="#d8d8d8" fill-opacity="0.6"/>
<ellipse cx="112.5" cy="630.8" rx="1.1" ry="0.9" fill="#222" fill-opacity="0.85"/>
<ellipse cx="123.8" cy="631.4" rx="1.4" ry="0.8" fill="#333" fill-opacity="0.85"/>
<ellipse cx="136.2" cy="631.2" rx="0.9" ry="0.7" fill="#555" fill-opacity="0.85"/>
<ellipse cx="129" cy="630.6" rx="5" ry="0.6" fill="#8a8a8a" fill-opacity="0.85"/>
<path d="M353.1 586.9H367.5M353.1 630.3H367.5" stroke="#333" stroke-width="0.9"/>
<text x="372.3" y="590.3" font-size="9.1">RAD51C</text>
<text x="372.8" y="633.2" font-size="10">Vinculin</text>
</svg>
</body></html>
